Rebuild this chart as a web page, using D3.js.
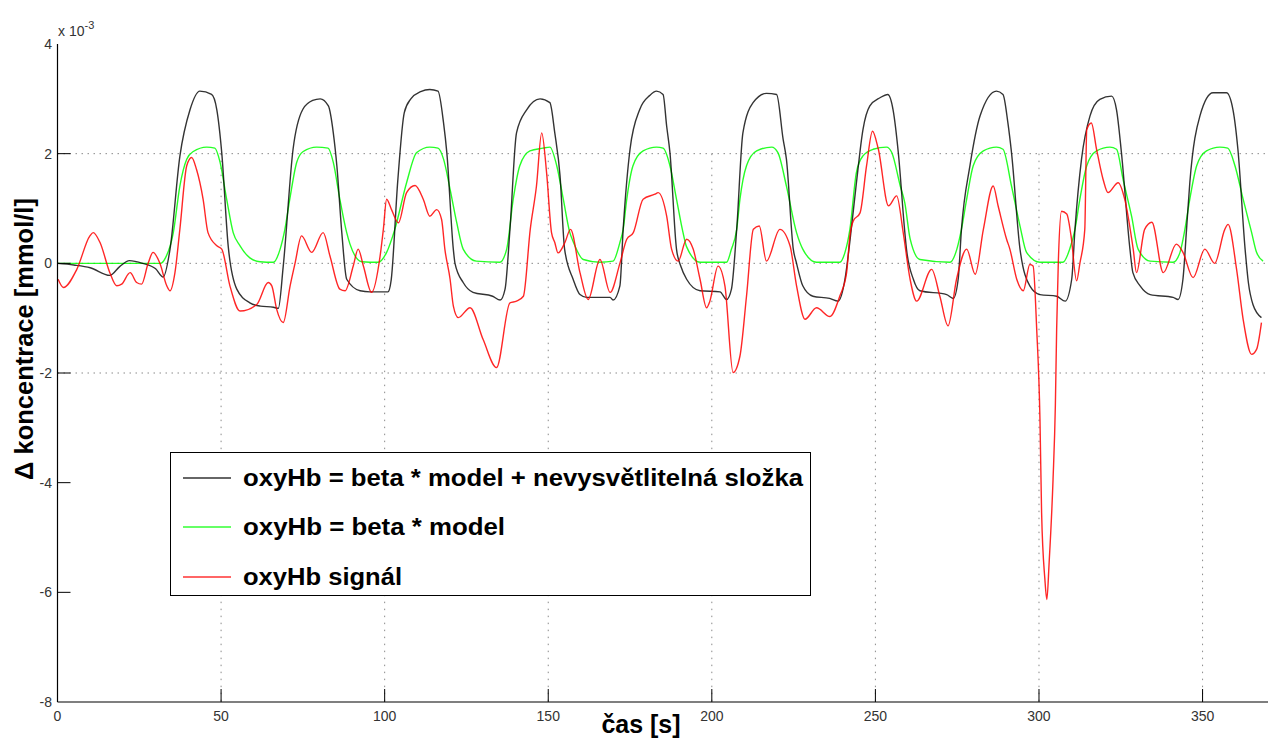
<!DOCTYPE html>
<html>
<head>
<meta charset="utf-8">
<script src="https://cdn.jsdelivr.net/npm/d3@7"></script>
<style>
  body { margin: 0; background: #fff; }
  .tick-label { font-family: "Liberation Sans", Arial, sans-serif; font-size: 14px; fill: #333; }
  .axis-title { font-family: "Liberation Sans", Arial, sans-serif; font-weight: bold; fill: #000; }
  .legend-text { font-family: "Liberation Sans", Arial, sans-serif; font-weight: bold; font-size: 23px; fill: #000; }
</style>
</head>
<body>
<script>
// oxyHb: model vs. measured signal (values in 10^-3 mmol/l)

// x ticks / y ticks
var xTicks = [0, 50, 100, 150, 200, 250, 300, 350];
var yTicks = [4, 2, 0, -2, -4, -6, -8];
var yGrid = [2, 0, -2];

var legendLabels = [
  "oxyHb = beta * model + nevysvětlitelná složka",
  "oxyHb = beta * model",
  "oxyHb signál"
];
var seriesColors = ["#000000", "#00ff00", "#ff0000"];

// black: beta * model + unexplained component
var blackT = [0, 5, 10, 16, 19, 22, 26, 30, 32.3, 34.4, 37.4, 40.5, 43.5, 47.1, 48.7, 50.2, 52.2, 54.8, 58.8, 62, 66, 67.5,
  69, 72, 75, 78, 80.3, 82.8, 84.3, 85.4, 86.9, 88.4, 92.5, 95.5, 101, 102, 104, 106, 108, 111, 113.8, 116.3, 118, 119,
  121, 121.5, 124, 127, 133, 135.3, 136.8, 138.3, 140.3, 143.4, 147.5, 150.5, 152, 153.6, 155, 157.6, 159.7, 161.7,
  168.9, 169.8, 171.9, 172.9, 175, 178, 181, 183.1, 185.1, 186.2, 187.2, 189.2, 190.5, 192.3, 196.4, 202.5, 204.5, 206,
  207.6, 209.5, 212.6, 216.7, 219.8, 221.8, 222.8, 224.9, 225.9, 227.8, 230.9, 236, 238.6, 240.7, 242.2, 244.2, 246.2,
  248.3, 251.4, 253.8, 255.4, 257, 259, 259.5, 261.6, 263.6, 271.8, 273.8, 275.3, 276.3, 278.9, 282, 287, 289, 290.5,
  291.6, 294.2, 297.2, 300.3, 305.4, 308, 310, 311, 313, 315.6, 318.6, 322.2, 323.7, 325.2, 327.8, 328.7, 330.9, 334,
  341, 342.5, 344, 345.1, 346.1, 349.2, 353.2, 357.3, 359.3, 360.8, 363, 364, 365.4, 368];
var blackV = [0, -0.03, -0.08, -0.22, -0.06, 0.05, 0, -0.1, -0.25, 0.26, 1.95, 2.8, 3.14, 3.08, 2.8, 2.02, 0.3, -0.47, -0.72, -0.78, -0.8, -0.82,
  -0.05, 2.08, 2.81, 2.97, 3.0, 2.87, 2.38, 1.77, 0.56, -0.29, -0.5, -0.52, -0.52, -0.3, 1.5, 2.75, 3.0, 3.13, 3.17, 3.14, 2.56, 2.02,
  0.25, 0, -0.35, -0.53, -0.6, -0.67, -0.47, 0.62, 2.38, 2.8, 3.0, 2.93, 2.38, 1.6, 0.26, -0.29, -0.57, -0.62,
  -0.62, -0.67, -0.41, 0.62, 2.08, 2.81, 3.06, 3.14, 3.08, 2.5, 2.02, 0.26, -0.05, -0.29, -0.5, -0.52, -0.66, -0.47,
  0.62, 2.38, 2.93, 3.1, 3.08, 2.26, 1.9, 0.26, 0, -0.41, -0.6, -0.64, -0.69, -0.29, 0.4, 1.47, 2.44,
  2.87, 3.02, 3.08, 2.8, 2.02, 0.56, 0.26, -0.29, -0.5, -0.57, -0.64, -0.29, 0.62, 1.78, 2.69, 3.14, 3.08, 2.56,
  2.02, 0.26, -0.41, -0.57, -0.6, -0.69, -0.29, 0.62, 1.9, 2.69, 2.99, 3.05, 2.8, 2.02, 0.26, -0.17, -0.41, -0.57,
  -0.62, -0.66, -0.29, 0.62, 1.47, 2.69, 3.11, 3.11, 2.8, 2.08, 0.26, -0.35, -0.75, -0.99];

// green: beta * model
var greenT = [0, 31.5, 33, 35.4, 37.4, 39.5, 41.5, 45.6, 48.1, 49.7, 51.7, 53.7, 55.8, 58.8, 61.9, 66, 68, 69.5, 71, 73.1,
  75.1, 79.2, 82.7, 84.3, 86.3, 88.4, 89.4, 93, 98, 100.6, 103.1, 106.7, 109.8, 113.8, 116.3, 118, 120, 122, 124, 128,
  135.2, 137.3, 139.3, 141.3, 144.4, 148.4, 150.5, 152.6, 154.6, 156.6, 157.6, 160.7, 165.8, 169.8, 171.9, 172.9, 174,
  175.9, 179, 183.1, 185.1, 187.2, 189.2, 191.2, 192.3, 196.4, 204.5, 206, 207.6, 208.6, 210.6, 213.7, 218.3, 220.2,
  222.8, 225.9, 227.8, 232, 239.1, 240.7, 242.2, 244.2, 246.2, 249.3, 253.4, 255, 257.6, 259, 260.6, 263.6, 272.8, 274.9,
  276.3, 277.9, 279.9, 283, 287, 289, 291.6, 294.2, 296.2, 300.3, 307.3, 309.4, 311, 312.5, 314.6, 317.6, 321.7, 323.7,
  325.7, 328.3, 330.3, 334, 341, 343.1, 344.6, 346.1, 348.2, 351.2, 355.3, 357.7, 359.9, 362.4, 365, 366.5, 368.5];
var greenV = [0, 0, 0.1, 0.56, 1.41, 1.9, 2.04, 2.12, 2.1, 1.84, 1.17, 0.56, 0.32, 0.1, 0.03, 0.02, 0.25, 0.62, 1.17, 1.84,
  2.04, 2.12, 2.1, 1.84, 1.17, 0.56, 0.35, 0.03, 0.02, 0.2, 0.62, 1.47, 2.02, 2.12, 2.1, 1.9, 1.35, 0.75, 0.26, 0.04,
  0.02, 0.26, 1.17, 1.78, 2.05, 2.1, 2.12, 1.78, 1.17, 0.56, 0.4, 0.07, 0.02, 0.04, 0.38, 0.62, 1.17,
  1.78, 2.05, 2.12, 2.1, 1.78, 1.17, 0.56, 0.3, 0.02, 0.02, 0.26, 0.62, 1.17, 1.78, 2.05, 2.12, 2.02,
  1.41, 0.56, 0.26, 0.02, 0.02, 0.2, 0.62, 1.66, 1.96, 2.08, 2.12, 2.02, 1.41, 1.1, 0.45, 0.07, 0.02, 0.26,
  0.62, 1.17, 1.78, 2.05, 2.12, 2.08, 1.41, 0.68, 0.2, 0.02, 0.02, 0.26, 0.62, 1.17, 1.78, 2.05, 2.12, 2.08,
  1.53, 0.86, 0.26, 0.04, 0.02, 0.2, 0.62, 1.17, 1.78, 2.05, 2.12, 2.1, 1.78, 1.17, 0.56, 0.2, 0.04];

// red: measured oxyHb signal
var redT = [0.2, 1.8, 5.9, 9.9, 10.9, 13, 16, 18.1, 19.6, 22.2, 24.2, 25.7, 27.7, 29.2, 31.3, 33.4, 34.4, 35.9, 37.4, 39.5,
  41, 42.5, 44.5, 46, 48.7, 50.2, 52.7, 55.8, 60.9, 64.4, 65.5, 67, 69, 71.1, 72.6, 74.6, 77.7, 81.2, 83.3, 86.3, 87.9,
  90.4, 91.9, 93.5, 96, 98.6, 99.6, 100.6, 102.1, 104.2, 106.7, 109.3, 111.8, 113.8, 115.9, 117.4, 118.4, 120, 121,
  122.5, 126.1, 130.1, 134.2, 138.3, 140.3, 142.4, 144.5, 146.4, 148, 149.5, 151, 152, 153, 155.1, 156.8, 159.7, 162.2,
  165.8, 168.9, 171.9, 174, 176, 179, 182.6, 183.6, 186.2, 187.7, 189.7, 192.3, 194.3, 196.4, 198.4, 199.4, 201.9, 204,
  206.5, 208.6, 210.6, 212.7, 214.5, 216.7, 220.8, 223.9, 225.9, 228.5, 232, 236.1, 239.1, 241.2, 242.2, 243.2, 245.3,
  247.3, 249.1, 250.9, 254, 256.5, 258.5, 260.6, 262.6, 267.2, 269.7, 272.2, 274.8, 277.9, 280.5, 283, 286, 287.5, 290.1,
  291.1, 293.2, 295.2, 297.2, 298.2, 299.3, 300.3, 300.8, 301.8, 302.4, 303.1, 304.3, 305, 305.4, 305.9, 306.9, 308.5,
  309.8, 311.5, 312.5, 314, 314.6, 316, 317.6, 319.6, 321.1, 324.2, 326.2, 328.8, 329.8, 332.3, 334.5, 338, 342, 344,
  347.1, 350.7, 353.7, 356.8, 357.8, 360.4, 362.4, 365, 366.5, 368];
var redV = [-0.29, -0.44, -0.11, 0.5, 0.56, 0.38, -0.17, -0.41, -0.38, -0.17, -0.35, -0.38, 0, 0.2, 0, -0.41, -0.5, -0.17, 0.62, 1.78,
  1.93, 1.71, 1.17, 0.56, 0.32, 0.26, -0.41, -0.87, -0.75, -0.35, -0.41, -0.84, -1.08, -0.41, 0, 0.5, 0.2, 0.56, 0.13, -0.47, -0.5,
  -0.05, 0.26, -0.05, -0.53, 0.13, 0.62, 1.17, 0.98, 0.74, 1.29, 1.42, 1.17, 0.86, 0.98, 0.8, 0.26, -0.29, -0.78,
  -0.99, -0.81, -1.39, -1.9, -0.72, -0.69, -0.6, 0.62, 1.41, 2.38, 1.65, 0.56, 0.38, 0.19, 0.38, 0.62, -0.17, -0.66,
  0.07, -0.53, 0, 0.44, 0.56, 1.17, 1.26, 1.29, 0.86, 0.26, 0.04, 0.44, 0.26, -0.29, -0.81, -0.69, -0.05, -0.41,
  -1.99, -1.69, -0.6, 0.62, 0.68, 0.04, 0.62, 0.32, -0.41, -1.02, -0.81, -0.97, -0.6, -0.17, 0.5, 0.77, 0.92,
  1.78, 2.41, 2.08, 1.05, 1.23, 0.56, -0.29, -0.69, -0.11, -0.6, -1.14, -0.29, 0.26, -0.2, 0.62, 1.41, 1.05, 0.44,
  0.26, -0.29, -0.5, -0.02, -0.05, -1.2, -2.85, -4.55, -5.76, -6.13, -5.46, -3.94, -2.6, -1.2, 0, 0.95, 0.9,
  0.5, -0.32, 0, 0.62, 2.44, 2.56, 2.08, 1.53, 1.29, 1.47, 1.17, 0.26, -0.17, 0.62, 0.75, -0.17, 0.35, 0.2,
  -0.26, 0.26, 0, 0.62, 0.71, -0.11, -1.02, -1.66, -1.57, -1.08];

var width = 1268, height = 740;

var svg = d3.select("body").append("svg")
    .attr("width", width)
    .attr("height", height);

var x = d3.scaleLinear().domain([0, 370]).range([57.5, 1268]);
var y = d3.scaleLinear().domain([-8, 4]).range([702, 44]);

// ****************** grid ***************************
svg.append("g").selectAll("line.hgrid")
  .data(yGrid)
  .enter().append("line")
    .attr("class", "hgrid")
    .attr("x1", x(0)).attr("x2", width)
    .attr("y1", function(d) { return y(d); })
    .attr("y2", function(d) { return y(d); })
    .style("stroke", "#8a8a8a")
    .style("stroke-width", 1)
    .style("stroke-dasharray", "1.5,4.5");

svg.append("g").selectAll("line.vgrid")
  .data(xTicks.slice(1))
  .enter().append("line")
    .attr("class", "vgrid")
    .attr("x1", function(d) { return x(d); })
    .attr("x2", function(d) { return x(d); })
    .attr("y1", y(2)).attr("y2", y(-8))
    .style("stroke", "#8a8a8a")
    .style("stroke-width", 1)
    .style("stroke-dasharray", "1.5,5.5");

// ****************** series ***************************
function makeData(ts, vs) {
  return ts.map(function(t, i) { return {t: t, v: vs[i]}; });
}

var line = d3.line()
    .x(function(d) { return x(d.t); })
    .y(function(d) { return y(d.v); })
    .curve(d3.curveMonotoneX);

var series = [
  makeData(blackT, blackV),
  makeData(greenT, greenV),
  makeData(redT, redV)
];

// draw green first, then black, red on top (like the original)
[1, 0, 2].forEach(function(k) {
  svg.append("path")
    .datum(series[k])
    .attr("d", line)
    .style("fill", "none")
    .style("stroke", seriesColors[k])
    .style("stroke-opacity", k == 0 ? 0.8 : 0.85)
    .style("stroke-width", 1.4);
});

// ****************** axes ***************************
var axisG = svg.append("g");

axisG.append("line")
  .attr("x1", x(0)).attr("x2", x(0))
  .attr("y1", y(4)).attr("y2", y(-8))
  .style("stroke", "#000").style("stroke-width", 1.2);

axisG.append("line")
  .attr("x1", x(0)).attr("x2", width)
  .attr("y1", y(-8)).attr("y2", y(-8))
  .style("stroke", "#000").style("stroke-width", 1.2);

// inward ticks
axisG.selectAll("line.ytick")
  .data(yTicks.slice(1, -1))
  .enter().append("line")
    .attr("x1", x(0)).attr("x2", x(0) + 13)
    .attr("y1", function(d) { return y(d); })
    .attr("y2", function(d) { return y(d); })
    .style("stroke", "#000").style("stroke-width", 1);

axisG.selectAll("line.xtick")
  .data(xTicks.slice(1))
  .enter().append("line")
    .attr("x1", function(d) { return x(d); })
    .attr("x2", function(d) { return x(d); })
    .attr("y1", y(-8)).attr("y2", y(-8) - 13)
    .style("stroke", "#000").style("stroke-width", 1);

axisG.selectAll("text.ylab")
  .data(yTicks)
  .enter().append("text")
    .attr("class", "tick-label")
    .attr("x", 52)
    .attr("y", function(d) { return y(d) + 5; })
    .attr("text-anchor", "end")
    .text(function(d) { return d; });

axisG.selectAll("text.xlab")
  .data(xTicks)
  .enter().append("text")
    .attr("class", "tick-label")
    .attr("x", function(d) { return x(d); })
    .attr("y", 721)
    .attr("text-anchor", "middle")
    .text(function(d) { return d; });

// exponent
var expo = axisG.append("text")
  .attr("class", "tick-label")
  .attr("x", 58)
  .attr("y", 36);
expo.append("tspan").text("x 10");
expo.append("tspan").attr("dy", -7).style("font-size", "11px").text("-3");

// axis titles
svg.append("text")
  .attr("class", "axis-title")
  .attr("x", 641)
  .attr("y", 733)
  .attr("text-anchor", "middle")
  .style("font-size", "25px")
  .text("čas [s]");

svg.append("text")
  .attr("class", "axis-title")
  .attr("transform", "translate(33,339) rotate(-90)")
  .attr("text-anchor", "middle")
  .style("font-size", "25.5px")
  .text("Δ koncentrace [mmol/l]");

// ****************** legend ***************************
var legend = svg.append("g");

legend.append("rect")
  .attr("x", 170.5).attr("y", 452.5)
  .attr("width", 640).attr("height", 143)
  .style("fill", "#fff")
  .style("stroke", "#000")
  .style("stroke-width", 1);

var legendY = [478, 527, 577];
var legendW = [560, 262, 159];
legendLabels.forEach(function(lbl, i) {
  legend.append("line")
    .attr("x1", 183).attr("x2", 231)
    .attr("y1", legendY[i]).attr("y2", legendY[i])
    .style("stroke", seriesColors[i])
    .style("stroke-opacity", 0.8)
    .style("stroke-width", 1.4);
  legend.append("text")
    .attr("class", "legend-text")
    .attr("x", 243)
    .attr("y", legendY[i] + 8)
    .attr("textLength", legendW[i])
    .attr("lengthAdjust", "spacingAndGlyphs")
    .text(lbl);
});
</script>
</body>
</html>
